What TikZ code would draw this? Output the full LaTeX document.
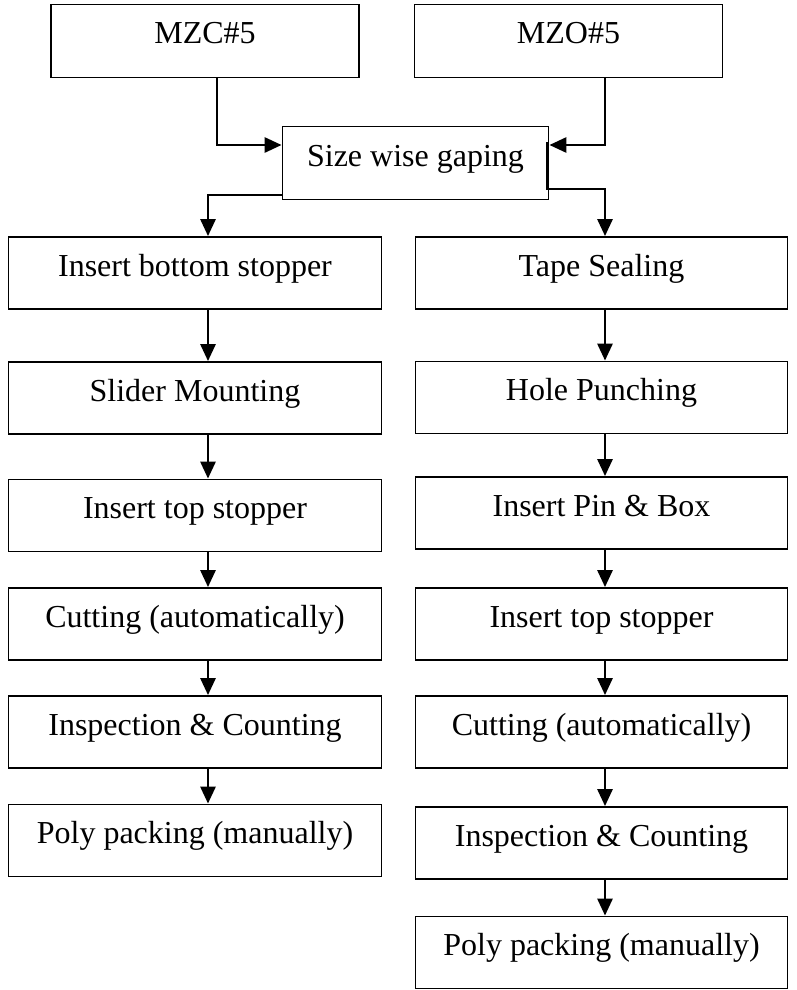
\documentclass[tikz,border=0pt]{standalone}
\usepackage{fontspec}
\setmainfont{Liberation Serif}
\usetikzlibrary{arrows.meta}
\begin{document}
\begin{tikzpicture}[x=1pt,y=-1pt,
  stepbox/.style={draw, line width=1.8pt, inner sep=0pt, minimum height=72pt,
    text height=22pt, text depth=16pt, font=\fontsize{32}{38}\selectfont},
  leftbox/.style={stepbox, minimum width=373pt},
  rightbox/.style={stepbox, minimum width=372pt},
  flow/.style={line width=2.8pt, -{Triangle[length=17pt,width=15pt]}}]
\useasboundingbox (0,0) rectangle (796,990);

% sources and merge step
\node[stepbox, minimum width=308pt, minimum height=73pt] (mzc) at (205,41) {MZC\#5};
\node[stepbox, minimum width=308pt, minimum height=73pt] (mzo) at (568.5,41) {MZO\#5};
\node[stepbox, minimum width=266pt, minimum height=73pt] (gap) at (415.5,163) {Size wise gaping};

% MZC line
\node[leftbox] (l1) at (195,273)   {Insert bottom stopper};
\node[leftbox] (l2) at (195,398)   {Slider Mounting};
\node[leftbox] (l3) at (195,515.5) {Insert top stopper};
\node[leftbox] (l4) at (195,624)   {Cutting (automatically)};
\node[leftbox] (l5) at (195,732)   {Inspection \& Counting};
\node[leftbox] (l6) at (195,840.5) {Poly packing (manually)};

% MZO line
\node[rightbox] (r1) at (601.5,273)   {Tape Sealing};
\node[rightbox] (r2) at (601.5,397.5) {Hole Punching};
\node[rightbox] (r3) at (601.5,513)   {Insert Pin \& Box};
\node[rightbox] (r4) at (601.5,624)   {Insert top stopper};
\node[rightbox] (r5) at (601.5,732)   {Cutting (automatically)};
\node[rightbox] (r6) at (601.5,843)   {Inspection \& Counting};
\node[rightbox] (r7) at (601.5,952.5) {Poly packing (manually)};

% inputs into gaping
\draw[flow] ([xshift=12pt]mzc.south) |- ([yshift=18pt]gap.west);
\draw[flow] ([xshift=36.5pt]mzo.south) |- ([yshift=18pt]gap.east);

% split into the two lines
\draw[flow] ([yshift=-32pt]gap.west) -| ([xshift=13pt]l1.north);
\draw[flow] ([xshift=-2pt,yshift=21pt]gap.east) -- ([xshift=-2pt,yshift=-26pt]gap.east)
  -| ([xshift=3.5pt]r1.north);

% sequential steps
\foreach \a/\b in {l1/l2,l2/l3,l3/l4,l4/l5,l5/l6}
  \draw[flow] ([xshift=13pt]\a.south) -- ([xshift=13pt]\b.north);
\foreach \a/\b in {r1/r2,r2/r3,r3/r4,r4/r5,r5/r6,r6/r7}
  \draw[flow] ([xshift=3.5pt]\a.south) -- ([xshift=3.5pt]\b.north);
\end{tikzpicture}
\end{document}
